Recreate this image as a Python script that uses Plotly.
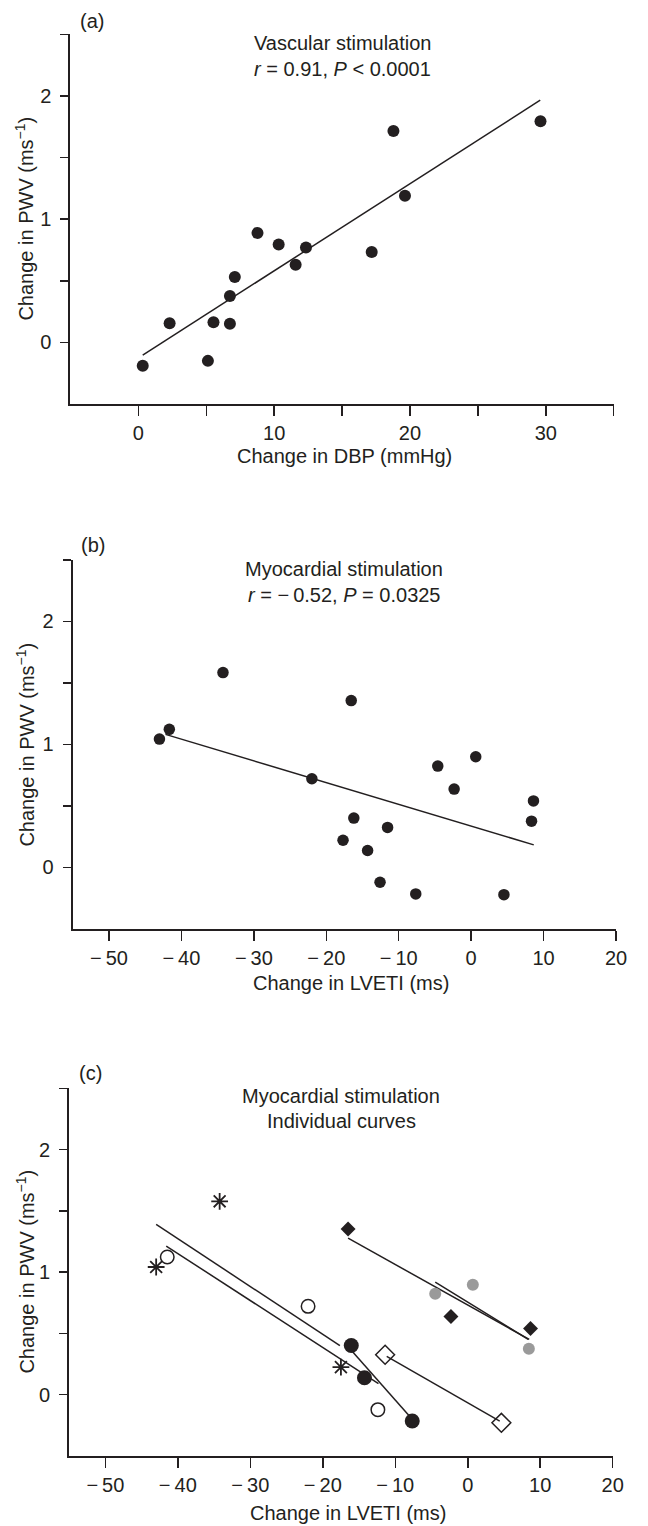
import plotly.graph_objects as go

# ---------------- data ----------------
# Panel (a): vascular stimulation
a_dbp = [0.32, 2.30, 5.12, 5.53, 6.74, 6.74, 7.10, 8.77, 10.33, 11.58, 12.34, 17.18, 18.78, 19.63, 29.61]
a_pwv = [-0.19, 0.155, -0.15, 0.163, 0.377, 0.152, 0.53, 0.888, 0.795, 0.63, 0.77, 0.733, 1.715, 1.19, 1.794]
a_fit_x = [0.32, 29.59]
a_fit_y = [-0.103, 1.965]

# Panel (b): myocardial stimulation
b_lveti = [-43.03, -41.67, -34.26, -21.99, -16.56, -16.20, -17.69, -14.30, -11.54, -12.58,
           -7.65, -4.61, 0.63, -2.35, 8.60, 8.33, 4.52]
b_pwv = [1.043, 1.122, 1.584, 0.72, 1.356, 0.40, 0.22, 0.136, 0.324, -0.122,
         -0.217, 0.823, 0.899, 0.636, 0.540, 0.375, -0.223]
b_fit_x = [-42.2, 8.64]
b_fit_y = [1.081, 0.182]

# Panel (c): individual curves
c_star_x = [-42.99, -34.23, -17.5]
c_star_y = [1.042, 1.578, 0.225]
c_star_fit_x = [-42.99, -17.64]
c_star_fit_y = [1.39, 0.40]

c_ocirc_x = [-41.46, -22.03, -12.4]
c_ocirc_y = [1.123, 0.721, -0.122]
c_ocirc_fit_x = [-41.6, -12.32]
c_ocirc_fit_y = [1.213, 0.09]

c_fcirc_x = [-16.07, -14.25, -7.66]
c_fcirc_y = [0.402, 0.139, -0.215]
c_fcirc_fit_x = [-16.47, -7.66]
c_fcirc_fit_y = [0.389, -0.20]

c_odiam_x = [-11.4, 4.64]
c_odiam_y = [0.326, -0.229]
c_odiam_fit_x = [-11.18, 4.41]
c_odiam_fit_y = [0.313, -0.215]

c_fdiam_x = [-16.51, -2.32, 8.66]
c_fdiam_y = [1.352, 0.639, 0.541]
c_fdiam_fit_x = [-16.51, 8.48]
c_fdiam_fit_y = [1.278, 0.451]

c_gray_x = [-4.49, 0.70, 8.43]
c_gray_y = [0.824, 0.898, 0.375]
c_gray_fit_x = [-4.49, 8.34]
c_gray_fit_y = [0.919, 0.451]

# ticks
y_tickvals = [0, 1, 2]
y_ticktext = ["0", "1", "2"]
y_minor_vals = [0.5, 1.5, 2.5]
a_x_tickvals = [0, 10, 20, 30]
a_x_ticktext = ["0", "10", "20", "30"]
a_x_minor_vals = [5, 15, 25, 35]
bc_x_tickvals = [-50, -40, -30, -20, -10, 0, 10, 20]
bc_x_ticktext = ["\u2212\u200950", "\u2212\u200940", "\u2212\u200930", "\u2212\u200920",
                 "\u2212\u200910", "0", "10", "20"]

# ---------------- layout helpers ----------------
W, H = 648, 1526
FONT = "Liberation Sans, Arial, Helvetica, sans-serif"
INK = "#231f20"


def xdom(a, b):
    return [a / W, b / W]


def ydom(top, bottom):
    return [(H - bottom) / H, (H - top) / H]


def px(x):
    return x / W


def py(y):
    return (H - y) / H


fig = go.Figure()

LINE = dict(color=INK, width=1.5)

# panel a
fig.add_trace(go.Scatter(x=a_fit_x, y=a_fit_y, mode="lines", line=LINE, xaxis="x", yaxis="y"))
fig.add_trace(go.Scatter(x=a_dbp, y=a_pwv, mode="markers",
                         marker=dict(size=12, color=INK), xaxis="x", yaxis="y"))

# panel b
fig.add_trace(go.Scatter(x=b_fit_x, y=b_fit_y, mode="lines", line=LINE, xaxis="x2", yaxis="y2"))
fig.add_trace(go.Scatter(x=b_lveti, y=b_pwv, mode="markers",
                         marker=dict(size=11.5, color=INK), xaxis="x2", yaxis="y2"))

# panel c lines
for fx, fy in [(c_star_fit_x, c_star_fit_y), (c_ocirc_fit_x, c_ocirc_fit_y),
               (c_fcirc_fit_x, c_fcirc_fit_y), (c_odiam_fit_x, c_odiam_fit_y),
               (c_fdiam_fit_x, c_fdiam_fit_y), (c_gray_fit_x, c_gray_fit_y)]:
    fig.add_trace(go.Scatter(x=fx, y=fy, mode="lines", line=LINE, xaxis="x3", yaxis="y3"))

# panel c markers
fig.add_trace(go.Scatter(x=c_star_x, y=c_star_y, mode="markers", xaxis="x3", yaxis="y3",
                         marker=dict(symbol="asterisk-open", size=14, color=INK,
                                     line=dict(color=INK, width=1.8))))
fig.add_trace(go.Scatter(x=c_ocirc_x, y=c_ocirc_y, mode="markers", xaxis="x3", yaxis="y3",
                         marker=dict(symbol="circle-open", size=13.5, color=INK,
                                     line=dict(color=INK, width=1.5))))
fig.add_trace(go.Scatter(x=c_fcirc_x, y=c_fcirc_y, mode="markers", xaxis="x3", yaxis="y3",
                         marker=dict(symbol="circle", size=15, color=INK)))
fig.add_trace(go.Scatter(x=c_odiam_x, y=c_odiam_y, mode="markers", xaxis="x3", yaxis="y3",
                         marker=dict(symbol="diamond-open", size=14.5, color=INK,
                                     line=dict(color=INK, width=1.5))))
fig.add_trace(go.Scatter(x=c_fdiam_x, y=c_fdiam_y, mode="markers", xaxis="x3", yaxis="y3",
                         marker=dict(symbol="diamond", size=11.5, color=INK)))
fig.add_trace(go.Scatter(x=c_gray_x, y=c_gray_y, mode="markers", xaxis="x3", yaxis="y3",
                         marker=dict(symbol="circle", size=12, color="#9a9a9a")))

axis_common = dict(showline=True, linecolor=INK, linewidth=2, ticks="outside",
                   tickwidth=1.5, tickcolor=INK, showgrid=False, zeroline=False,
                   tickfont=dict(family=FONT, size=20, color=INK), fixedrange=True)
xaxis_common = dict(axis_common, ticklen=10)
yaxis_common = dict(axis_common, ticklen=8, ticklabelstandoff=5,
                    minor=dict(tickmode="array", tickvals=y_minor_vals, ticks="outside",
                               ticklen=8, tickwidth=1.5, tickcolor=INK, showgrid=False))
x_minor_a = dict(tickmode="array", tickvals=a_x_minor_vals, ticks="outside",
                 ticklen=10, tickwidth=1.5, tickcolor=INK, showgrid=False)

PA = ((71.7, 624.3), (34.3, 404))
PB = ((74, 626.7), (560, 928.7))
PC = ((70.3, 623.3), (1088.3, 1456))

fig.update_layout(
    width=W, height=H, margin=dict(l=0, r=0, t=0, b=0),
    paper_bgcolor="white", plot_bgcolor="white", showlegend=False,
    font=dict(family=FONT, size=20, color=INK),
    xaxis=dict(xaxis_common, domain=xdom(*PA[0]), range=[-5, 35], anchor="y",
               tickmode="array", tickvals=a_x_tickvals, ticktext=a_x_ticktext, minor=x_minor_a),
    yaxis=dict(yaxis_common, domain=ydom(*PA[1]), range=[-0.5, 2.5], anchor="x",
               tickmode="array", tickvals=y_tickvals, ticktext=y_ticktext),
    xaxis2=dict(xaxis_common, domain=xdom(*PB[0]), range=[-55, 20], anchor="y2",
                tickmode="array", tickvals=bc_x_tickvals, ticktext=bc_x_ticktext),
    yaxis2=dict(yaxis_common, domain=ydom(*PB[1]), range=[-0.5, 2.5], anchor="x2",
                tickmode="array", tickvals=y_tickvals, ticktext=y_ticktext),
    xaxis3=dict(xaxis_common, domain=xdom(*PC[0]), range=[-55, 20], anchor="y3",
                tickmode="array", tickvals=bc_x_tickvals, ticktext=bc_x_ticktext),
    yaxis3=dict(yaxis_common, domain=ydom(*PC[1]), range=[-0.5, 2.5], anchor="x3",
                tickmode="array", tickvals=y_tickvals, ticktext=y_ticktext),
)

ytitle = "Change in PWV (ms<sup>\u22121</sup>)"


def ann(text, x, y, angle=0, size=20):
    fig.add_annotation(text=text, x=px(x), y=py(y), xref="paper", yref="paper",
                       xanchor="center", yanchor="middle", showarrow=False, textangle=angle,
                       font=dict(family=FONT, size=size, color=INK))


# panel a texts
ann("(a)", 94, 21)
ann("Vascular stimulation", 348, 43)
ann("<i>r</i> = 0.91, <i>P</i> &lt; 0.0001", 348, 69)
ann("Change in DBP (mmHg)", 350, 456)
ann(ytitle, 25, 219, angle=-90)

# panel b texts
ann("(b)", 95, 545.5)
ann("Myocardial stimulation", 350, 569)
ann("<i>r</i> = \u2212\u20090.52, <i>P</i> = 0.0325", 350, 595)
ann("Change in LVETI (ms)", 357, 983)
ann(ytitle, 25, 745, angle=-90)

# panel c texts
ann("(c)", 92.5, 1072.5)
ann("Myocardial stimulation", 347, 1096)
ann("Individual curves", 347, 1121)
ann("Change in LVETI (ms)", 354, 1513)
ann(ytitle, 25, 1272, angle=-90)

fig.write_html("out.html", post_script="document.body.style.margin='0';",
               config={"displayModeBar": False, "staticPlot": True})
